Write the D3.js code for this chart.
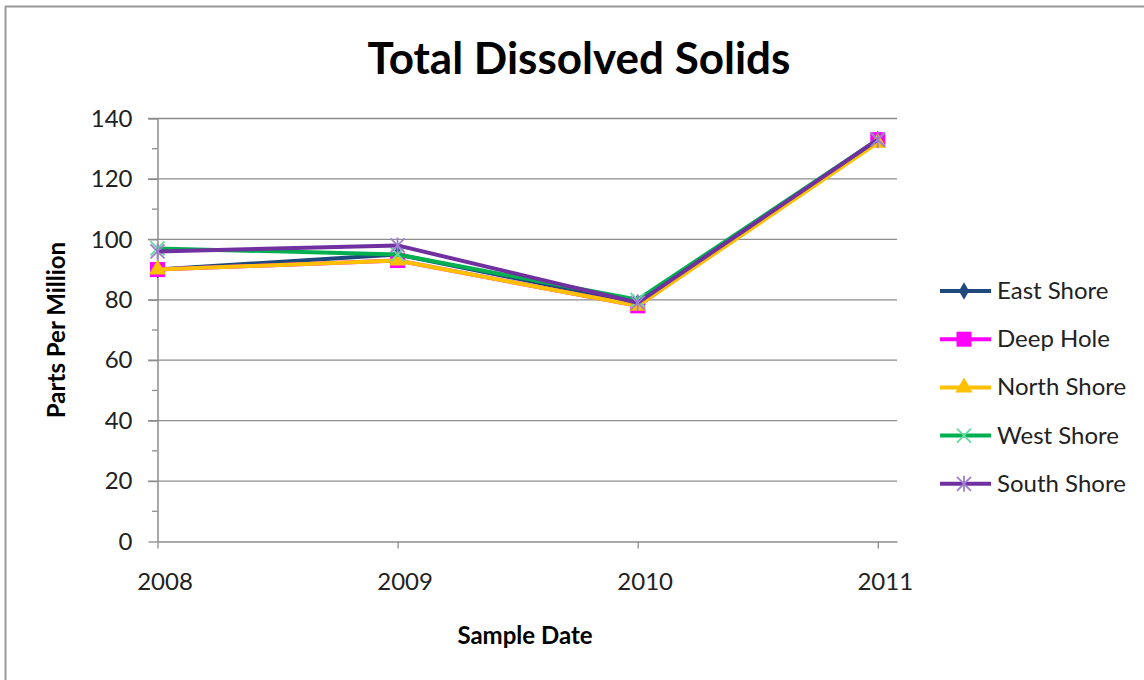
<!DOCTYPE html>
<html><head><meta charset="utf-8">
<script src="https://cdn.jsdelivr.net/npm/d3@7/dist/d3.min.js"></script>
<style>
body{margin:0;background:#fff;}
svg{display:block;font-family:Lato,"Open Sans",sans-serif;}
</style></head>
<body><svg id="c" width="1144" height="680"></svg>
<script>
const years = [2008, 2009, 2010, 2011];
const eastShore  = [90, 95, 79, 133];
const deepHole   = [90, 93, 78, 133];
const northShore = [90, 93, 78, 132];
const westShore  = [97, 95, 80, 133];
const southShore = [96, 98, 79, 133];
const seriesNames = ["East Shore","Deep Hole","North Shore","West Shore","South Shore"];
const yTicks = [0,20,40,60,80,100,120,140];

const series = [
  {name:seriesNames[0], values:eastShore,  color:"#1F497D", marker:"diamond"},
  {name:seriesNames[1], values:deepHole,   color:"#FF00FF", marker:"square"},
  {name:seriesNames[2], values:northShore, color:"#FFC000", marker:"triangle"},
  {name:seriesNames[3], values:westShore,  color:"#00B050", marker:"x", mcolor:"#66D9A0"},
  {name:seriesNames[4], values:southShore, color:"#7030A0", marker:"star", mcolor:"#9E7FD0"}
];

const svg = d3.select("#c");
svg.append("line").attr("x1",5.5).attr("x2",5.5).attr("y1",6).attr("y2",680).attr("stroke","#999").attr("stroke-width",2);
svg.append("line").attr("x1",5).attr("x2",1144).attr("y1",6.5).attr("y2",6.5).attr("stroke","#999").attr("stroke-width",2);

const x = d3.scaleLinear().domain([2008, 2011.08]).range([157.5, 897]);
const y = d3.scaleLinear().domain([0,140]).range([541.5,118.5]);

svg.append("g").selectAll("line").data(yTicks.filter(d=>d>0)).join("line")
  .attr("x1",148).attr("x2",897).attr("y1",d=>y(d)).attr("y2",d=>y(d))
  .attr("stroke","#8c8c8c").attr("stroke-width",1.3);

const ya = svg.append("g").attr("transform","translate(157.5,0)")
  .call(d3.axisLeft(y).tickValues(yTicks).tickSize(9).tickSizeOuter(0).tickPadding(16).tickFormat(d3.format("d")));
ya.select(".domain").attr("stroke","#8c8c8c").attr("stroke-width",1.5);
ya.selectAll(".tick line").attr("stroke","#8c8c8c").attr("stroke-width",1.3);
ya.selectAll("text").attr("font-size",24).attr("fill","#222").attr("font-family","Lato,'Open Sans',sans-serif");
svg.append("g").selectAll("line").data(d3.range(10,140,20)).join("line")
  .attr("x1",152).attr("x2",157.5).attr("y1",d=>y(d)).attr("y2",d=>y(d))
  .attr("stroke","#8c8c8c").attr("stroke-width",1.3);

const xa = svg.append("g").attr("transform","translate(0,541.5)")
  .call(d3.axisBottom(x).tickValues(years).tickSize(7).tickSizeOuter(0).tickPadding(24).tickFormat(d3.format("d")));
xa.select(".domain").attr("stroke","#8c8c8c").attr("stroke-width",1.5);
xa.selectAll(".tick line").attr("stroke","#8c8c8c").attr("stroke-width",1.3);
xa.selectAll("text").attr("font-size",24).attr("dx",7).attr("fill","#222").attr("font-family","Lato,'Open Sans',sans-serif");

svg.append("text").attr("x",579).attr("y",74).attr("text-anchor","middle")
  .attr("font-size",44).attr("font-weight","bold").attr("fill","#000").text("Total Dissolved Solids");
svg.append("text").attr("x",525).attr("y",644).attr("text-anchor","middle")
  .attr("font-size",24).attr("font-weight","bold").attr("fill","#000").text("Sample Date");
svg.append("text").attr("transform","translate(65,330) rotate(-90)").attr("text-anchor","middle")
  .attr("font-size",24).attr("font-weight","bold").attr("fill","#000").text("Parts Per Million");

function drawMarker(g, type, cx, cy, color, mcolor){
  if(type==="diamond"){
    g.append("path").attr("d",d3.symbol(d3.symbolDiamond,90)()).attr("transform",`translate(${cx},${cy})`).attr("fill",color);
  } else if(type==="square"){
    g.append("rect").attr("x",cx-7.5).attr("y",cy-7.5).attr("width",15).attr("height",15).attr("fill",color);
  } else if(type==="triangle"){
    g.append("path").attr("d",d3.symbol(d3.symbolTriangle,130)()).attr("transform",`translate(${cx},${cy})`).attr("fill",color);
  } else if(type==="x"){
    g.append("path").attr("d",`M${cx-7},${cy-7}L${cx+7},${cy+7}M${cx-7},${cy+7}L${cx+7},${cy-7}`).attr("stroke",mcolor).attr("stroke-width",1.8);
  } else if(type==="star"){
    g.append("path").attr("d",`M${cx-7},${cy-7}L${cx+7},${cy+7}M${cx-7},${cy+7}L${cx+7},${cy-7}M${cx},${cy-8}L${cx},${cy+8}`).attr("stroke",mcolor).attr("stroke-width",1.8);
  }
}

const line = d3.line().x((d,i)=>x(years[i])).y(d=>y(d));
series.forEach(s=>{
  const g = svg.append("g");
  g.append("path").attr("d",line(s.values)).attr("fill","none").attr("stroke",s.color).attr("stroke-width",4).attr("stroke-linejoin","round");
  s.values.forEach((v,i)=>drawMarker(g,s.marker,x(years[i]),y(v),s.color,s.mcolor||s.color));
});

const lg = svg.append("g");
series.forEach((s,i)=>{
  const cy = 291 + i*48.2;
  lg.append("line").attr("x1",940).attr("x2",991).attr("y1",cy).attr("y2",cy).attr("stroke",s.color).attr("stroke-width",4);
  drawMarker(lg,s.marker,964,cy,s.color,s.mcolor||s.color);
  lg.append("text").attr("x",997).attr("y",cy+8).attr("font-size",24).attr("fill","#222").text(s.name);
});
</script></body></html>
